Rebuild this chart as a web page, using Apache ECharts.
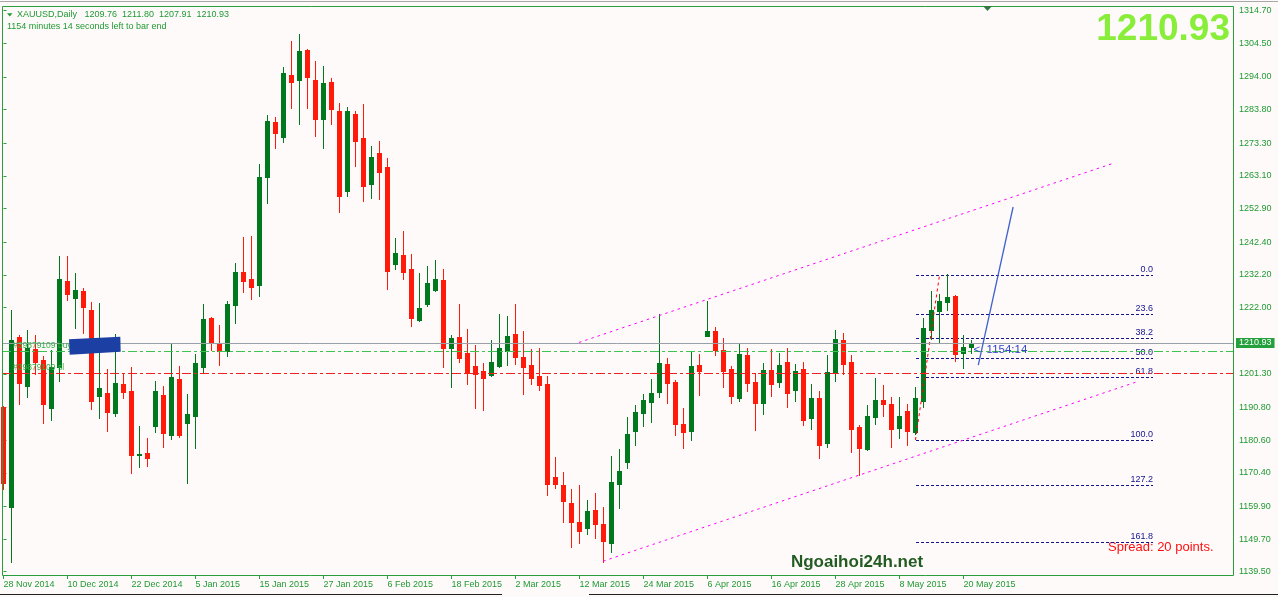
<!DOCTYPE html>
<html><head><meta charset="utf-8">
<script src="https://cdn.jsdelivr.net/npm/echarts@6.0.0/dist/echarts.min.js"></script>
<style>html,body{margin:0;padding:0;background:#fffafa;overflow:hidden}#c{width:1278px;height:597px}</style>
</head><body><div id="c"></div>
<script>
// ---------- data ----------
const tickLabels = ['28 Nov 2014','10 Dec 2014','22 Dec 2014','5 Jan 2015','15 Jan 2015','27 Jan 2015','6 Feb 2015','18 Feb 2015','2 Mar 2015','12 Mar 2015','24 Mar 2015','6 Apr 2015','16 Apr 2015','28 Apr 2015','8 May 2015','20 May 2015'];
const tickBars = [0,8,16,24,32,40,48,56,64,72,80,88,96,104,112,120];
const yTickValues = [1139.50,1149.70,1159.90,1170.40,1180.60,1190.80,1201.30,1222.00,1232.20,1242.40,1252.90,1263.10,1273.30,1283.80,1294.00,1304.50,1314.70];

const opens  = [1191.0,1159.8,1212.7,1197.6,1209.1,1205.6,1190.7,1203.5,1230.3,1225.1,
                1227.2,1221.2,1194.5,1195.2,1189.0,1198.0,1195.9,1175.9,1176.7,1185.1,
                1194.7,1182.2,1199.7,1186.0,1188.1,1203.5,1218.8,1210.8,1208.5,1222.8,
                1233.1,1230.9,1229.0,1262.9,1279.9,1275.4,1294.6,1293.2,1302.4,1293.1,
                1281.0,1292.4,1283.4,1258.5,1282.4,1274.9,1260.7,1270.3,1266.0,1235.7,
                1238.4,1234.0,1218.2,1223.1,1227.6,1230.6,1209.4,1212.8,1207.8,1203.7,
                1202.2,1200.9,1203.7,1208.4,1213.7,1206.5,1204.1,1200.6,1198.1,1169.1,
                1166.6,1161.0,1155.0,1153.2,1158.8,1154.4,1148.6,1167.0,1173.8,1183.5,
                1189.2,1192.6,1195.7,1204.4,1198.7,1185.6,1183.5,1204.1,1213.1,1214.7,
                1208.7,1202.8,1193.8,1207.2,1198.7,1192.3,1202.5,1198.7,1205.0,1196.2,
                1202.8,1187.5,1193.8,1179.7,1201.9,1211.9,1205.0,1184.7,1177.8,1187.9,
                1193.1,1191.9,1184.4,1189.7,1183.1,1192.9,1215.0,1221.0,1223.7,1225.7,
                1207.9,1209.76];
const highs  = [1191.3,1221.2,1213.4,1215.0,1213.4,1206.9,1208.7,1238.1,1238.1,1232.9,
                1228.2,1223.8,1223.5,1202.8,1213.6,1201.5,1203.5,1185.0,1181.3,1199.1,
                1197.5,1210.8,1203.7,1195.0,1207.5,1223.1,1219.1,1216.5,1224.1,1236.0,
                1244.1,1244.3,1266.8,1282.1,1281.5,1297.1,1305.3,1307.4,1302.6,1299.0,
                1297.4,1293.8,1285.9,1284.6,1283.4,1285.6,1272.4,1274.0,1268.7,1243.7,
                1245.9,1238.7,1232.8,1235.0,1236.8,1234.0,1213.4,1223.1,1215.3,1210.3,
                1204.7,1211.9,1220.0,1219.4,1223.1,1214.7,1209.1,1209.4,1200.6,1175.4,
                1170.6,1165.3,1166.6,1161.9,1164.1,1159.7,1175.6,1177.8,1187.9,1191.5,
                1195.0,1199.7,1220.0,1206.2,1199.4,1190.6,1208.4,1207.5,1224.0,1215.9,
                1212.5,1203.7,1210.6,1209.4,1201.7,1204.8,1209.1,1207.8,1209.4,1204.4,
                1205.0,1198.1,1195.9,1207.2,1215.0,1214.1,1207.2,1185.3,1191.5,1199.9,
                1197.8,1194.0,1194.0,1191.9,1197.3,1218.8,1227.2,1226.2,1232.5,1225.9,
                1213.3,1211.80];
const lows   = [1165.3,1142.6,1191.8,1194.2,1201.2,1186.0,1186.9,1199.1,1224.4,1215.5,
                1214.1,1190.3,1187.4,1183.5,1188.2,1193.7,1170.4,1172.3,1172.6,1183.2,
                1178.5,1180.9,1181.7,1167.3,1178.0,1201.5,1208.7,1204.1,1206.9,1217.3,
                1226.9,1224.7,1225.7,1254.7,1271.9,1273.8,1284.4,1279.4,1284.2,1275.7,
                1271.9,1279.4,1251.7,1256.9,1266.3,1255.4,1256.3,1255.9,1227.9,1234.1,
                1230.8,1216.3,1217.9,1222.6,1227.3,1203.5,1197.3,1205.0,1198.2,1190.7,
                1190.1,1200.6,1203.4,1204.1,1204.4,1195.1,1198.1,1196.2,1163.5,1165.7,
                1155.1,1147.3,1148.6,1151.4,1150.1,1142.6,1145.8,1159.4,1171.9,1179.2,
                1185.0,1186.3,1194.2,1192.3,1182.2,1178.1,1180.6,1194.7,1213.0,1207.2,
                1197.2,1192.2,1192.8,1195.9,1183.8,1188.8,1194.4,1197.2,1190.9,1192.8,
                1185.3,1184.1,1175.1,1178.4,1199.1,1201.2,1176.9,1169.7,1177.5,1185.5,
                1188.1,1178.5,1181.3,1179.0,1182.5,1191.0,1212.2,1210.8,1221.2,1205.4,
                1203.0,1207.91];
const closes = [1167.1,1211.9,1198.3,1209.3,1205.1,1191.9,1203.3,1230.9,1226.1,1227.5,
                1222.3,1192.9,1197.0,1189.5,1198.3,1195.5,1175.9,1176.3,1175.1,1195.9,
                1182.9,1200.3,1182.2,1188.8,1204.7,1218.4,1210.8,1208.5,1223.1,1233.1,
                1230.4,1228.5,1262.8,1280.3,1276.6,1295.2,1292.5,1302.1,1294.1,1281.0,
                1292.1,1284.1,1256.9,1283.4,1274.1,1260.1,1269.0,1264.4,1233.5,1239.0,
                1233.2,1218.8,1221.9,1229.7,1230.9,1209.4,1212.5,1206.2,1201.6,1201.2,
                1200.0,1205.0,1209.4,1213.1,1206.5,1203.5,1200.0,1197.8,1167.0,1167.0,
                1161.7,1155.1,1152.3,1158.5,1154.4,1149.2,1167.5,1171.0,1182.5,1189.4,
                1193.1,1195.3,1204.7,1198.5,1185.6,1183.1,1203.7,1202.2,1214.7,1208.7,
                1202.2,1194.4,1207.5,1198.4,1192.3,1202.5,1198.1,1204.1,1195.3,1202.2,
                1186.9,1193.8,1179.1,1201.9,1212.2,1204.4,1184.1,1178.1,1188.1,1193.1,
                1191.9,1184.1,1188.1,1183.4,1193.8,1215.6,1221.2,1224.0,1225.3,1207.5,
                1209.7,1210.93];

const bidPrice = 1210.93;
const buyLinePrice = 1208.3;
const slLinePrice = 1201.45;
const upperChannel = [[71.94, 1211.1], [138.9, 1267.2]];
const lowerChannel = [[74.97, 1142.8], [141.97, 1199.05]];
const fibLevels = [0, 23.6, 38.2, 50, 61.8, 100, 127.2, 161.8];
const fibHigh = 1232.1, fibLow = 1180.65;
const fibBars = [114, 117];
const fibEndBar = 143.7;
const arrowPath = [[121.85, 1204.0], [126.2, 1253.4]];
const timerText = '<  1154:14';

// ---------- style ----------
const BULL = '#00781e', BEAR = '#ff1a0a';
const GTXT = '#1f9a33', FRAME = '#2a9e3a';
const NAVY = '#14148c';
const FONT = '"Liberation Sans", Arial, sans-serif';

const candleData = opens.map((o, i) => [i, o, closes[i], lows[i], highs[i]]);
const fibData = fibLevels.map(r => [fibBars[0], fibHigh - r / 100 * (fibHigh - fibLow), r]);

const chart = echarts.init(document.getElementById('c'), null, {renderer: 'canvas'});

const option = {
  animation: false,
  backgroundColor: '#fffafa',
  grid: {left: 2, top: 6, width: 1231, height: 569, show: false},
  xAxis: {
    type: 'value', min: -0.1875, max: 153.6875,
    splitLine: {show: false}, axisLine: {show: false},
    axisTick: {show: true, customValues: tickBars, length: 4, lineStyle: {color: FRAME}},
    axisLabel: {
      customValues: tickBars, align: 'left', margin: 5,
      color: GTXT, fontSize: 9, fontFamily: FONT,
      formatter: v => tickLabels[tickBars.indexOf(Math.round(v))] || ''
    }
  },
  yAxis: {
    type: 'value', position: 'right', min: 1138.47, max: 1316.17, scale: true,
    splitLine: {show: false}, axisLine: {show: false},
    axisTick: {show: true, customValues: yTickValues, length: 3, lineStyle: {color: FRAME}},
    axisLabel: {customValues: yTickValues, margin: 6, color: GTXT, fontSize: 9, fontFamily: FONT,
      formatter: v => v.toFixed(2)}
  },
  series: [
    { // horizontal order / bid lines
      type: 'line', data: [], silent: true,
      markLine: {
        silent: true, symbol: 'none', animation: false,
        data: [
          {yAxis: buyLinePrice, lineStyle: {color: '#3cc24e', type: [9, 3, 3, 3], width: 1}, label: {show: false}},
          {yAxis: slLinePrice, lineStyle: {color: '#ee2020', type: [9, 3, 3, 3], width: 1}, label: {show: false}},
          {yAxis: bidPrice, lineStyle: {color: '#9aa0a8', type: 'solid', width: 1},
            label: {show: true, position: 'end', distance: 3, formatter: bidPrice.toFixed(2),
              backgroundColor: '#26a03c', color: '#ffffff', fontSize: 9, fontFamily: FONT,
              lineHeight: 10, padding: [0, 3, 0, 3]}}
        ]
      }
    },
    {type: 'line', data: upperChannel, symbol: 'none', silent: true,
      lineStyle: {color: '#ff00ff', width: 1, type: [2.5, 4]}},
    {type: 'line', data: lowerChannel, symbol: 'none', silent: true,
      lineStyle: {color: '#ff00ff', width: 1, type: [2.5, 4]}},
    { // fibonacci levels
      type: 'custom', data: fibData, encode: {x: 0, y: 1}, silent: true, clip: false,
      renderItem: function (params, api) {
        const price = api.value(1), r = api.value(2);
        const p1 = api.coord([fibBars[0], price]);
        const p2 = api.coord([fibEndBar, price]);
        const y = Math.round(p1[1]) + 0.5;
        return {type: 'group', children: [
          {type: 'line', shape: {x1: Math.round(p1[0]), y1: y, x2: Math.round(p2[0]), y2: y},
            style: {stroke: NAVY, lineWidth: 1, lineDash: [3, 2]}},
          {type: 'text', style: {text: r.toFixed(1), x: Math.round(p2[0]), y: y - 1.5,
            align: 'right', verticalAlign: 'bottom', fill: NAVY, font: '9px ' + FONT}}
        ]};
      }
    },
    {type: 'line', data: [[fibBars[0], fibLow], [fibBars[1], fibHigh]], symbol: 'none', silent: true,
      lineStyle: {color: '#ff0000', width: 1, type: [3, 3]}},
    { // candles
      type: 'custom', data: candleData, encode: {x: 0, y: [1, 2, 3, 4]}, silent: true,
      renderItem: function (params, api) {
        const i = api.value(0), o = api.value(1), c = api.value(2), l = api.value(3), h = api.value(4);
        const x = Math.floor(api.coord([i, o])[0]);
        const yo = api.coord([i, o])[1], yc = api.coord([i, c])[1];
        const yl = Math.round(api.coord([i, l])[1]), yh = Math.round(api.coord([i, h])[1]);
        const col = c >= o ? BULL : BEAR;
        const top = Math.round(Math.min(yo, yc)), bot = Math.round(Math.max(yo, yc));
        return {type: 'group', children: [
          {type: 'rect', shape: {x: x, y: yh, width: 1, height: Math.max(1, yl - yh + 1)}, style: {fill: col}},
          {type: 'rect', shape: {x: x - 2, y: top, width: 5, height: Math.max(1, bot - top + 1)}, style: {fill: col}}
        ]};
      }
    },
    { // arrow
      type: 'line', data: [], silent: true,
      markLine: {silent: true, symbol: ['none', 'arrow'], symbolSize: [0, 7], animation: false,
        lineStyle: {color: '#3d62cc', width: 1.3, type: 'solid'}, label: {show: false},
        data: [[{coord: arrowPath[0]}, {coord: arrowPath[1]}]]}
    }
  ]
};
chart.setOption(option);

const px = (b, p) => chart.convertToPixel({gridIndex: 0}, [b, p]);
const buyPt = px(0, buyLinePrice), slPt = px(0, slLinePrice), timerPt = px(121, bidPrice);

chart.setOption({
  graphic: [
    {type: 'rect', shape: {x: 0, y: 1, width: 1278, height: 1}, style: {fill: '#a8a8a8'}, silent: true},
    {type: 'rect', shape: {x: 2.5, y: 6.5, width: 1231, height: 569}, style: {fill: null, stroke: FRAME, lineWidth: 1}, silent: true, z: 10},
    {type: 'rect', shape: {x: 0, y: 594, width: 502, height: 1}, style: {fill: '#202020'}, silent: true},
    {type: 'rect', shape: {x: 589, y: 594, width: 689, height: 1}, style: {fill: '#202020'}, silent: true},
    {type: 'polygon', shape: {points: [[7, 13.3], [12.5, 13.3], [9.75, 16.5]]}, style: {fill: GTXT}, silent: true},
    {type: 'polygon', shape: {points: [[983, 6], [992, 6], [987.5, 11]]}, style: {fill: '#2c7a3c'}, silent: true, z: 11},
    {type: 'text', x: 17, y: 15, style: {text: 'XAUUSD,Daily   1209.76  1211.80  1207.91  1210.93', fill: GTXT, font: '9px ' + FONT, verticalAlign: 'middle'}, silent: true},
    {type: 'text', x: 7, y: 26.5, style: {text: '1154 minutes 14 seconds left to bar end', fill: GTXT, font: '9px ' + FONT, verticalAlign: 'middle'}, silent: true},
    {type: 'text', x: 1230, y: 29.5, style: {text: '1210.93', fill: '#88ee3a', font: 'bold 37px ' + FONT, align: 'right', verticalAlign: 'middle'}, silent: true},
    {type: 'text', x: 13, y: buyPt[1] - 1, style: {text: '#39879109 buy', fill: '#34b048', font: '8.5px ' + FONT, verticalAlign: 'bottom'}, silent: true, z: 20},
    {type: 'text', x: 13, y: slPt[1] - 1.5, style: {text: '#39879109 sl', fill: '#34b048', font: '8.5px ' + FONT, verticalAlign: 'bottom'}, silent: true, z: 20},
    {type: 'polygon', shape: {points: [[69, 339.3], [120.3, 336.7], [120.7, 351.7], [69.7, 354.7]]}, style: {fill: '#1b3fa3'}, silent: true, z: 21},
    {type: 'text', x: timerPt[0] + 2, y: timerPt[1] + 7, style: {text: timerText, fill: '#3344cc', font: '11.5px ' + FONT, verticalAlign: 'middle'}, silent: true, z: 20},
    {type: 'text', x: 857, y: 562, style: {text: 'Ngoaihoi24h.net', fill: '#235c23', font: 'bold 17px ' + FONT, align: 'center', verticalAlign: 'middle'}, silent: true},
    {type: 'text', x: 1108, y: 547.5, style: {text: 'Spread: 20 points.', fill: '#ff1010', font: '13px ' + FONT, verticalAlign: 'middle'}, silent: true}
  ]
});
</script>
</body></html>
